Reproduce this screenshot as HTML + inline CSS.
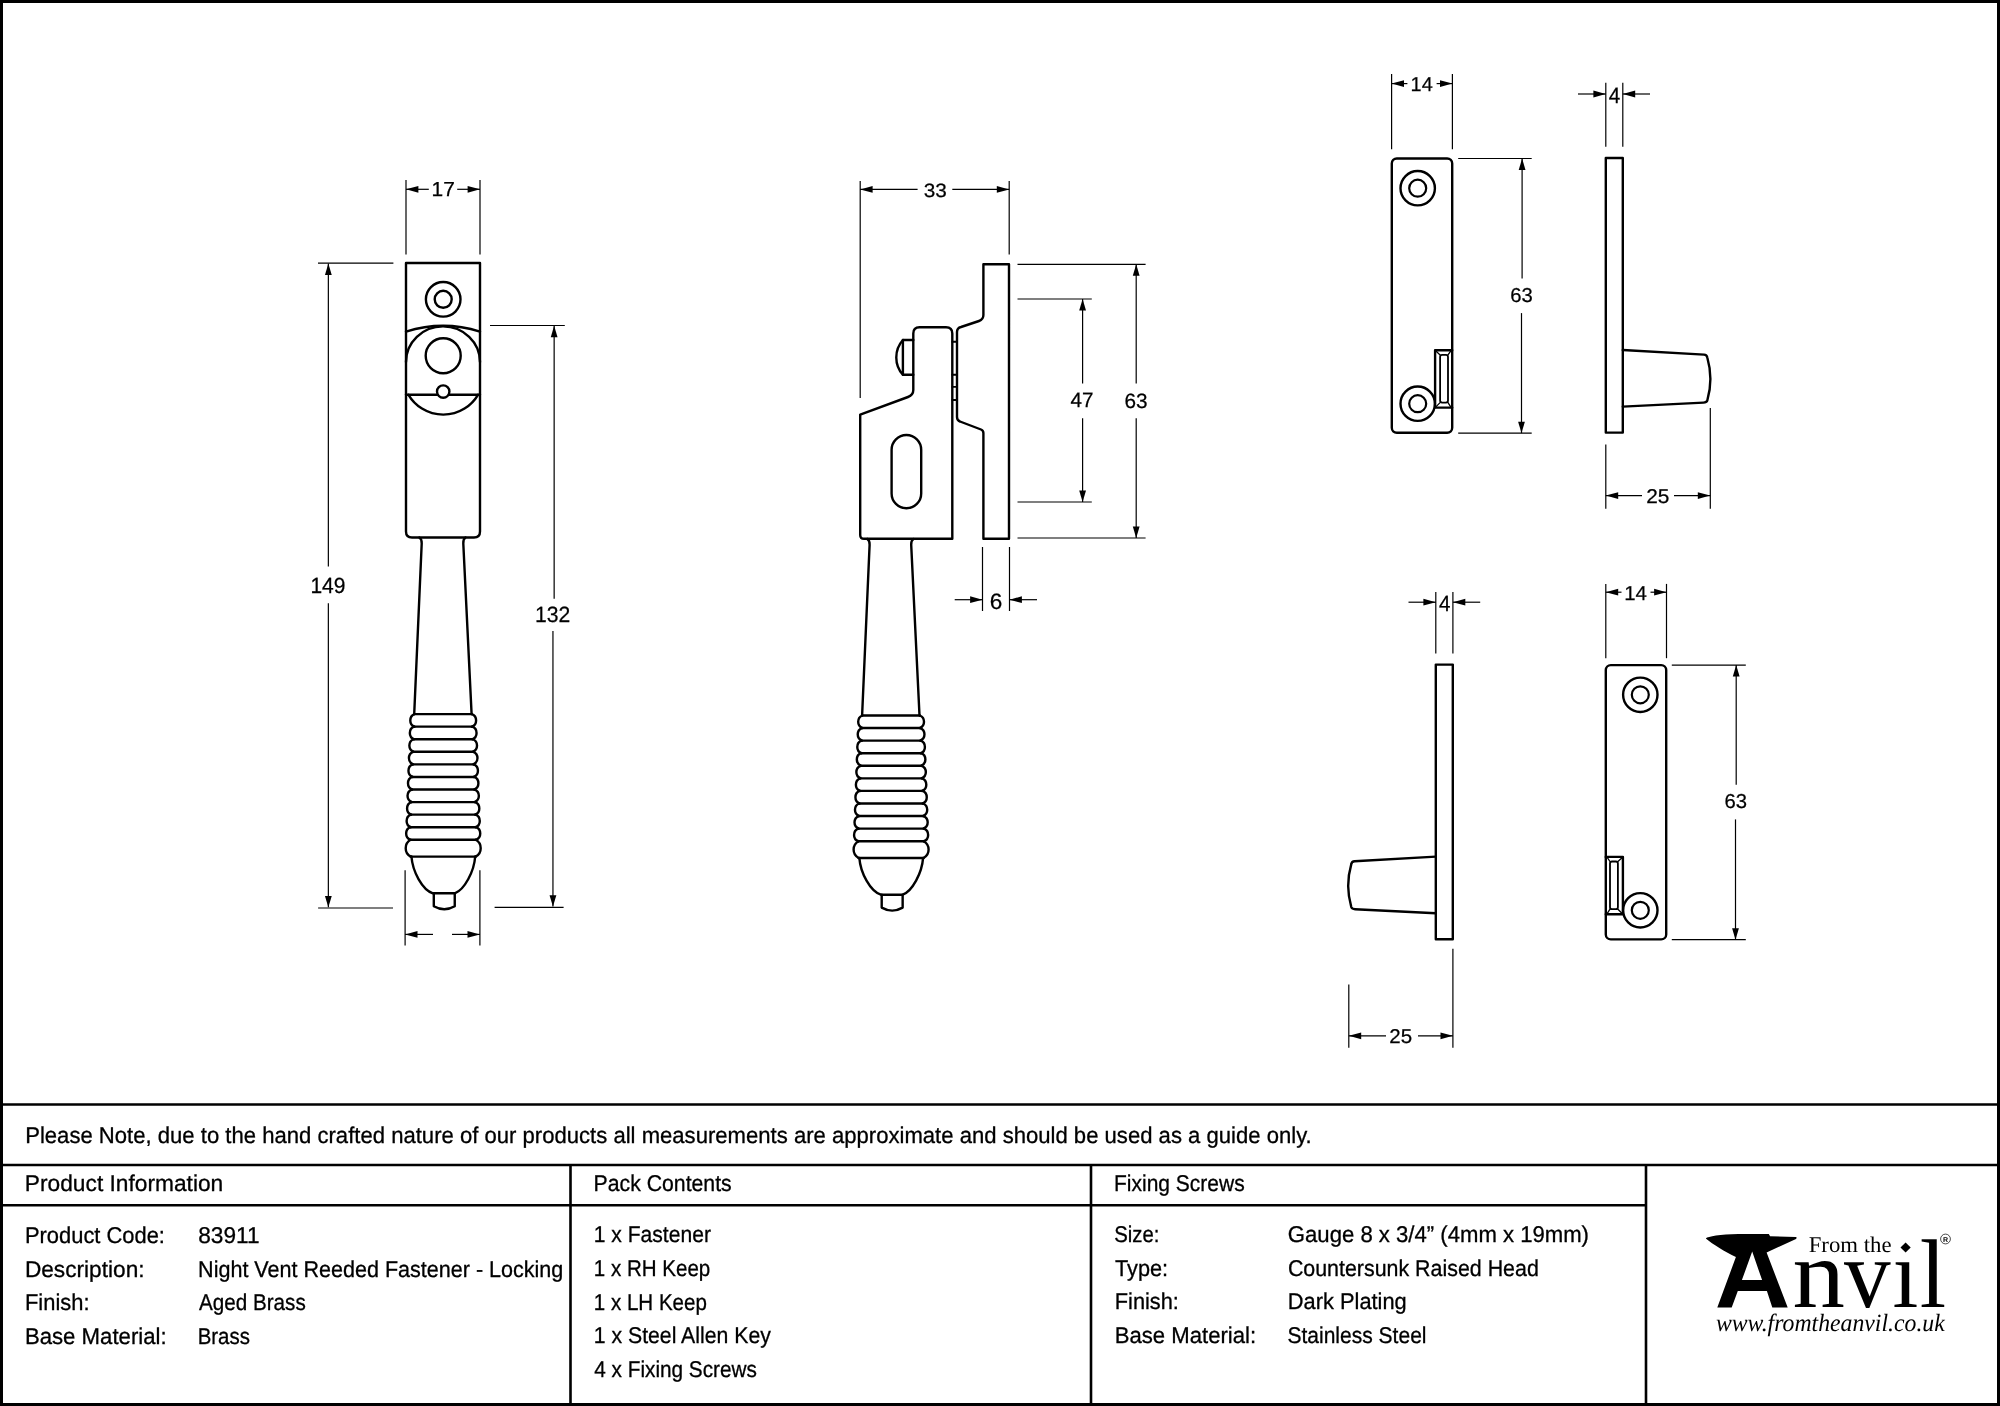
<!DOCTYPE html>
<html><head><meta charset="utf-8"><style>
html,body{margin:0;padding:0;background:#fff;width:2000px;height:1406px;overflow:hidden;font-family:"Liberation Sans",sans-serif;}
svg{display:block;will-change:transform;text-rendering:geometricPrecision;}
</style></head><body>
<svg width="2000" height="1406" viewBox="0 0 2000 1406">
<rect x="0" y="0" width="2000" height="1406" fill="#fff"/>
<rect x="1.5" y="1.5" width="1997" height="1403" fill="none" stroke="#000" stroke-width="3"/>
<g stroke="#000" stroke-width="2.6" fill="none">
<path d="M0,1104.5 H2000 M0,1165 H2000 M0,1205.3 H1646"/>
<path d="M570.5,1165 V1406 M1091,1165 V1406 M1646,1165 V1406"/>
</g>
<g stroke="#000" stroke-width="2.4" fill="none" stroke-linejoin="round" stroke-linecap="round">
<path d="M406,263 H480 V531.5 Q480,537.5 474,537.5 H412 Q406,537.5 406,531.5 Z"/>
<circle cx="443.2" cy="299.3" r="17.3"/><circle cx="443.2" cy="299.3" r="8.5"/>
<path d="M406,331.6 Q443.2,319.8 480,331.6"/>
<path d="M406,362 A37,35.6 0 0 1 480,362"/>
<circle cx="443.2" cy="355.8" r="17.5"/>
<path d="M406,394.8 H480"/>
<path d="M408.5,394.8 A40.4,40.4 0 0 0 478,394.8"/>
<circle cx="443.2" cy="391.6" r="6.2" fill="#fff"/>
<path d="M419.3,537.5 Q421.9,539 421.7,543.5 L414.2,714.1"/>
<path d="M465.5,537.5 Q463.1,539 463.3,543.5 L471.6,714.1"/>
<path d="M414.5,714.1 L471.9,714.1"/>
<path d="M414.5,714.1 A6.8,6.8 0 0 0 414.5,726.67"/>
<path d="M471.9,714.1 A6.8,6.8 0 0 1 471.9,726.67"/>
<path d="M414.04,726.67 L472.36,726.67"/>
<path d="M414.04,726.67 A6.8,6.8 0 0 0 414.04,739.24"/>
<path d="M472.36,726.67 A6.8,6.8 0 0 1 472.36,739.24"/>
<path d="M413.58,739.24 L472.82,739.24"/>
<path d="M413.58,739.24 A6.8,6.8 0 0 0 413.58,751.81"/>
<path d="M472.82,739.24 A6.8,6.8 0 0 1 472.82,751.81"/>
<path d="M413.12,751.81 L473.28,751.81"/>
<path d="M413.12,751.81 A6.8,6.8 0 0 0 413.12,764.38"/>
<path d="M473.28,751.81 A6.8,6.8 0 0 1 473.28,764.38"/>
<path d="M412.66,764.38 L473.74,764.38"/>
<path d="M412.66,764.38 A6.8,6.8 0 0 0 412.66,776.95"/>
<path d="M473.74,764.38 A6.8,6.8 0 0 1 473.74,776.95"/>
<path d="M412.2,776.95 L474.2,776.95"/>
<path d="M412.2,776.95 A6.8,6.8 0 0 0 412.2,789.52"/>
<path d="M474.2,776.95 A6.8,6.8 0 0 1 474.2,789.52"/>
<path d="M411.74,789.52 L474.66,789.52"/>
<path d="M411.74,789.52 A6.8,6.8 0 0 0 411.74,802.09"/>
<path d="M474.66,789.52 A6.8,6.8 0 0 1 474.66,802.09"/>
<path d="M411.28,802.09 L475.12,802.09"/>
<path d="M411.28,802.09 A6.8,6.8 0 0 0 411.28,814.66"/>
<path d="M475.12,802.09 A6.8,6.8 0 0 1 475.12,814.66"/>
<path d="M410.82,814.66 L475.58,814.66"/>
<path d="M410.82,814.66 A6.8,6.8 0 0 0 410.82,827.23"/>
<path d="M475.58,814.66 A6.8,6.8 0 0 1 475.58,827.23"/>
<path d="M410.36,827.23 L476.04,827.23"/>
<path d="M410.36,827.23 A6.8,6.8 0 0 0 410.36,839.8"/>
<path d="M476.04,827.23 A6.8,6.8 0 0 1 476.04,839.8"/>
<path d="M410.7,839.8 L475.7,839.8"/>
<path d="M410.7,839.8 A9.56,9.56 0 0 0 410.7,856.6"/>
<path d="M475.7,839.8 A9.56,9.56 0 0 1 475.7,856.6"/>
<path d="M410.7,856.6 L475.7,856.6"/>
<path d="M411.45,856.5 C412.56,871.64 422.39,889.91 432.9,893.3 L454.8,893.3 C464.4,889.9 474.1,871.6 475.2,856.5"/>
<path d="M433.8,893.3 L433.8,906.2 A21.1,21.1 0 0 0 454.75,906.2 L454.75,893.3"/>
<path d="M860.2,533 V414.6 L908,397 Q913.3,395 913.3,390 V333.5 Q913.3,327.2 919.5,327.2 H946 Q952.3,327.2 952.3,333.5 V538.8 H864 Q860.2,538.8 860.2,535 Z"/>
<path d="M913.3,340 H902.9 A26.2,26.2 0 0 0 902.9,374.8 H913.3"/>
<path d="M902.9,340 V374.8"/>
<rect x="891.6" y="435" width="29.6" height="73.2" rx="14.8" ry="14.8"/>
<path d="M983.4,264.2 H1009 V538.8 H983.4 V433 Q983.4,430.4 981,429.5 L960,421.5 Q957,420.5 957,417 V332 Q957,328 961,327 L979,321 Q983.4,319.5 983.4,315 Z"/>
<path d="M952.3,341.8 H957" stroke-width="1.9"/>
<path d="M952.3,374.7 H957" stroke-width="1.9"/>
<path d="M952.3,386.9 H957" stroke-width="1.9"/>
<path d="M952.3,400.0 H957" stroke-width="1.9"/>
<path d="M867.2,538.9 Q869.8,540.4 869.6,544.9 L862.1,715.5"/>
<path d="M913.4,538.9 Q911,540.4 911.2,544.9 L919.5,715.5"/>
<path d="M862.4,715.5 L919.8,715.5"/>
<path d="M862.4,715.5 A6.8,6.8 0 0 0 862.4,728.07"/>
<path d="M919.8,715.5 A6.8,6.8 0 0 1 919.8,728.07"/>
<path d="M861.94,728.07 L920.26,728.07"/>
<path d="M861.94,728.07 A6.8,6.8 0 0 0 861.94,740.64"/>
<path d="M920.26,728.07 A6.8,6.8 0 0 1 920.26,740.64"/>
<path d="M861.48,740.64 L920.72,740.64"/>
<path d="M861.48,740.64 A6.8,6.8 0 0 0 861.48,753.21"/>
<path d="M920.72,740.64 A6.8,6.8 0 0 1 920.72,753.21"/>
<path d="M861.02,753.21 L921.18,753.21"/>
<path d="M861.02,753.21 A6.8,6.8 0 0 0 861.02,765.78"/>
<path d="M921.18,753.21 A6.8,6.8 0 0 1 921.18,765.78"/>
<path d="M860.56,765.78 L921.64,765.78"/>
<path d="M860.56,765.78 A6.8,6.8 0 0 0 860.56,778.35"/>
<path d="M921.64,765.78 A6.8,6.8 0 0 1 921.64,778.35"/>
<path d="M860.1,778.35 L922.1,778.35"/>
<path d="M860.1,778.35 A6.8,6.8 0 0 0 860.1,790.92"/>
<path d="M922.1,778.35 A6.8,6.8 0 0 1 922.1,790.92"/>
<path d="M859.64,790.92 L922.56,790.92"/>
<path d="M859.64,790.92 A6.8,6.8 0 0 0 859.64,803.49"/>
<path d="M922.56,790.92 A6.8,6.8 0 0 1 922.56,803.49"/>
<path d="M859.18,803.49 L923.02,803.49"/>
<path d="M859.18,803.49 A6.8,6.8 0 0 0 859.18,816.06"/>
<path d="M923.02,803.49 A6.8,6.8 0 0 1 923.02,816.06"/>
<path d="M858.72,816.06 L923.48,816.06"/>
<path d="M858.72,816.06 A6.8,6.8 0 0 0 858.72,828.63"/>
<path d="M923.48,816.06 A6.8,6.8 0 0 1 923.48,828.63"/>
<path d="M858.26,828.63 L923.94,828.63"/>
<path d="M858.26,828.63 A6.8,6.8 0 0 0 858.26,841.2"/>
<path d="M923.94,828.63 A6.8,6.8 0 0 1 923.94,841.2"/>
<path d="M858.6,841.2 L923.6,841.2"/>
<path d="M858.6,841.2 A9.56,9.56 0 0 0 858.6,858"/>
<path d="M923.6,841.2 A9.56,9.56 0 0 1 923.6,858"/>
<path d="M858.6,858 L923.6,858"/>
<path d="M859.35,857.9 C860.46,873.04 870.29,891.31 880.8,894.7 L902.7,894.7 C912.3,891.3 922,873 923.1,857.9"/>
<path d="M881.7,894.7 L881.7,907.6 A21.1,21.1 0 0 0 902.65,907.6 L902.65,894.7"/>
<rect x="1391.8" y="158.5" width="60.4" height="274.3" rx="5"/>
<circle cx="1417.7" cy="188.2" r="17.2"/>
<circle cx="1417.7" cy="188.2" r="8.5" stroke-width="2.2"/>
<circle cx="1417.7" cy="403.7" r="17.2"/>
<circle cx="1417.7" cy="403.7" r="8.5" stroke-width="2.2"/>
<path d="M1435.1,350.3 H1452.2 M1435.1,350.3 V407.6 H1452.2"/>
<rect x="1440.1" y="354.9" width="7.9" height="47.7" rx="2" stroke-width="1.8"/>
<path d="M1435.1,350.3 L1440.1,354.9" stroke-width="1.3"/>
<path d="M1451.2,350.3 L1448,354.9" stroke-width="1.3"/>
<path d="M1435.1,407.6 L1440.1,402.6" stroke-width="1.3"/>
<path d="M1451.2,407.6 L1448,402.6" stroke-width="1.3"/>
<rect x="1605.8" y="158" width="17" height="274.6"/>
<path d="M1622.8,350 L1704,354.6 Q1706.8,354.8 1707.3,357.5 Q1713.5,379 1707.3,400.5 Q1706.5,402.4 1703.5,402.6 L1622.8,406.6"/>
<rect x="1605.8" y="665.1" width="60.4" height="274.3" rx="5"/>
<circle cx="1640.3" cy="694.8" r="17.2"/>
<circle cx="1640.3" cy="694.8" r="8.5" stroke-width="2.2"/>
<circle cx="1640.3" cy="910.3" r="17.2"/>
<circle cx="1640.3" cy="910.3" r="8.5" stroke-width="2.2"/>
<path d="M1622.9,856.9 H1605.8 M1622.9,856.9 V914.2 H1605.8"/>
<rect x="1610" y="861.5" width="7.9" height="47.7" rx="2" stroke-width="1.8"/>
<path d="M1622.9,856.9 L1617.9,861.5" stroke-width="1.3"/>
<path d="M1606.8,856.9 L1610,861.5" stroke-width="1.3"/>
<path d="M1622.9,914.2 L1617.9,909.2" stroke-width="1.3"/>
<path d="M1606.8,914.2 L1610,909.2" stroke-width="1.3"/>
<rect x="1435.8" y="664.6" width="17" height="274.6"/>
<path d="M1435.8,856.6 L1354.6,861.2 Q1351.8,861.4 1351.3,864.1 Q1345.1,885.6 1351.3,907.1 Q1352.1,909 1355.1,909.2 L1435.8,913.2"/>
</g>
<g stroke="#000" stroke-width="1.2" fill="none">
<line x1="406" y1="180" x2="406" y2="254.6" stroke-width="1.2"/>
<line x1="480" y1="180" x2="480" y2="254.6" stroke-width="1.2"/>
<line x1="318" y1="263.1" x2="393.4" y2="263.1" stroke-width="1.2"/>
<line x1="318.1" y1="908" x2="393" y2="908" stroke-width="1.2"/>
<line x1="490" y1="325.5" x2="564.8" y2="325.5" stroke-width="1.2"/>
<line x1="494.6" y1="907.3" x2="563.6" y2="907.3" stroke-width="1.2"/>
<line x1="405.1" y1="870.3" x2="405.1" y2="945.4" stroke-width="1.2"/>
<line x1="479.9" y1="870.3" x2="479.9" y2="945.4" stroke-width="1.2"/>
<line x1="860.2" y1="181" x2="860.2" y2="398" stroke-width="1.2"/>
<line x1="1009.2" y1="181" x2="1009.2" y2="254.6" stroke-width="1.2"/>
<line x1="1017.5" y1="299" x2="1091.8" y2="299" stroke-width="1.2"/>
<line x1="1017.5" y1="502" x2="1091.8" y2="502" stroke-width="1.2"/>
<line x1="1017.5" y1="264.3" x2="1145.6" y2="264.3" stroke-width="1.2"/>
<line x1="1017.5" y1="538" x2="1145.6" y2="538" stroke-width="1.2"/>
<line x1="982.5" y1="547" x2="982.5" y2="611" stroke-width="1.2"/>
<line x1="1009.5" y1="547" x2="1009.5" y2="611" stroke-width="1.2"/>
<line x1="1391.6" y1="73.9" x2="1391.6" y2="149.3" stroke-width="1.2"/>
<line x1="1452.4" y1="73.9" x2="1452.4" y2="149.3" stroke-width="1.2"/>
<line x1="1458.2" y1="158.5" x2="1531.7" y2="158.5" stroke-width="1.2"/>
<line x1="1458.2" y1="433.1" x2="1531.7" y2="433.1" stroke-width="1.2"/>
<line x1="1605.8" y1="82.8" x2="1605.8" y2="146.8" stroke-width="1.2"/>
<line x1="1622.8" y1="82.8" x2="1622.8" y2="146.8" stroke-width="1.2"/>
<line x1="1605.8" y1="444.6" x2="1605.8" y2="508.8" stroke-width="1.2"/>
<line x1="1710.3" y1="408" x2="1710.3" y2="508.8" stroke-width="1.2"/>
<line x1="1435.8" y1="592" x2="1435.8" y2="653.4" stroke-width="1.2"/>
<line x1="1452.9" y1="592" x2="1452.9" y2="653.4" stroke-width="1.2"/>
<line x1="1348.8" y1="984.6" x2="1348.8" y2="1047.7" stroke-width="1.2"/>
<line x1="1452.9" y1="948.7" x2="1452.9" y2="1047.7" stroke-width="1.2"/>
<line x1="1605.8" y1="583.9" x2="1605.8" y2="658.2" stroke-width="1.2"/>
<line x1="1666.5" y1="583.9" x2="1666.5" y2="658.2" stroke-width="1.2"/>
<line x1="1671.8" y1="665.1" x2="1745.8" y2="665.1" stroke-width="1.2"/>
<line x1="1671.8" y1="939.7" x2="1745.8" y2="939.7" stroke-width="1.2"/>
</g>
<g stroke="#000" stroke-width="1.2" fill="none">
<line x1="406" y1="189.3" x2="428.8" y2="189.3" stroke-width="1.2"/>
<line x1="457.2" y1="189.3" x2="480" y2="189.3" stroke-width="1.2"/>
<path d="M406,189.3 L418.4,185.9 L418.4,192.7 Z" fill="#000" stroke="none"/>
<path d="M480,189.3 L467.6,192.7 L467.6,185.9 Z" fill="#000" stroke="none"/>
<line x1="328.35" y1="263.6" x2="328.35" y2="566.4" stroke-width="1.2"/>
<line x1="328.35" y1="603.2" x2="328.35" y2="907.3" stroke-width="1.2"/>
<path d="M328.35,263.6 L331.75,275 L324.95,275 Z" fill="#000" stroke="none"/>
<path d="M328.35,907.3 L324.95,895.9 L331.75,895.9 Z" fill="#000" stroke="none"/>
<line x1="554.15" y1="325.8" x2="554.15" y2="598.8" stroke-width="1.2"/>
<line x1="552.95" y1="631" x2="552.95" y2="906.6" stroke-width="1.2"/>
<path d="M554.15,325.8 L557.55,337.2 L550.75,337.2 Z" fill="#000" stroke="none"/>
<path d="M552.95,906.6 L549.55,895.2 L556.35,895.2 Z" fill="#000" stroke="none"/>
<line x1="405.1" y1="934.4" x2="433" y2="934.4" stroke-width="1.2"/>
<line x1="452" y1="934.4" x2="479.9" y2="934.4" stroke-width="1.2"/>
<path d="M405.1,934.4 L417.5,931 L417.5,937.8 Z" fill="#000" stroke="none"/>
<path d="M479.9,934.4 L467.5,937.8 L467.5,931 Z" fill="#000" stroke="none"/>
<line x1="860.2" y1="189.4" x2="917.6" y2="189.4" stroke-width="1.2"/>
<line x1="952.3" y1="189.4" x2="1009.2" y2="189.4" stroke-width="1.2"/>
<path d="M860.2,189.4 L872.6,186 L872.6,192.8 Z" fill="#000" stroke="none"/>
<path d="M1009.2,189.4 L996.8,192.8 L996.8,186 Z" fill="#000" stroke="none"/>
<line x1="1082.6" y1="299" x2="1082.6" y2="383.5" stroke-width="1.2"/>
<line x1="1082.6" y1="418.2" x2="1082.6" y2="502" stroke-width="1.2"/>
<path d="M1082.6,299 L1086,310.4 L1079.2,310.4 Z" fill="#000" stroke="none"/>
<path d="M1082.6,502 L1079.2,490.6 L1086,490.6 Z" fill="#000" stroke="none"/>
<line x1="1136.2" y1="264.3" x2="1136.2" y2="383.5" stroke-width="1.2"/>
<line x1="1136.2" y1="418.2" x2="1136.2" y2="538" stroke-width="1.2"/>
<path d="M1136.2,264.3 L1139.6,275.7 L1132.8,275.7 Z" fill="#000" stroke="none"/>
<path d="M1136.2,538 L1132.8,526.6 L1139.6,526.6 Z" fill="#000" stroke="none"/>
<line x1="954.7" y1="599.7" x2="982.5" y2="599.7" stroke-width="1.2"/>
<line x1="1009.5" y1="599.7" x2="1037" y2="599.7" stroke-width="1.2"/>
<path d="M982.5,599.7 L970.1,603.1 L970.1,596.3 Z" fill="#000" stroke="none"/>
<path d="M1009.5,599.7 L1021.9,596.3 L1021.9,603.1 Z" fill="#000" stroke="none"/>
<line x1="1391.6" y1="83.6" x2="1407.4" y2="83.6" stroke-width="1.2"/>
<line x1="1436.6" y1="83.6" x2="1452.4" y2="83.6" stroke-width="1.2"/>
<path d="M1391.6,83.6 L1404,80.2 L1404,87 Z" fill="#000" stroke="none"/>
<path d="M1452.4,83.6 L1440,87 L1440,80.2 Z" fill="#000" stroke="none"/>
<line x1="1522.1" y1="158.5" x2="1522.1" y2="278.5" stroke-width="1.2"/>
<line x1="1521.5" y1="313.1" x2="1521.5" y2="433.1" stroke-width="1.2"/>
<path d="M1522.1,158.5 L1525.5,169.9 L1518.7,169.9 Z" fill="#000" stroke="none"/>
<path d="M1521.5,433.1 L1518.1,421.7 L1524.9,421.7 Z" fill="#000" stroke="none"/>
<line x1="1578" y1="94" x2="1605.8" y2="94" stroke-width="1.2"/>
<line x1="1622.8" y1="94" x2="1650" y2="94" stroke-width="1.2"/>
<path d="M1605.8,94 L1593.4,97.4 L1593.4,90.6 Z" fill="#000" stroke="none"/>
<path d="M1622.8,94 L1635.2,90.6 L1635.2,97.4 Z" fill="#000" stroke="none"/>
<line x1="1605.8" y1="495.6" x2="1642" y2="495.6" stroke-width="1.2"/>
<line x1="1674" y1="495.6" x2="1710.2" y2="495.6" stroke-width="1.2"/>
<path d="M1605.8,495.6 L1618.2,492.2 L1618.2,499 Z" fill="#000" stroke="none"/>
<path d="M1710.2,495.6 L1697.8,499 L1697.8,492.2 Z" fill="#000" stroke="none"/>
<line x1="1408.5" y1="602.2" x2="1435.8" y2="602.2" stroke-width="1.2"/>
<line x1="1452.9" y1="602.2" x2="1480.2" y2="602.2" stroke-width="1.2"/>
<path d="M1435.8,602.2 L1423.4,605.6 L1423.4,598.8 Z" fill="#000" stroke="none"/>
<path d="M1452.9,602.2 L1465.3,598.8 L1465.3,605.6 Z" fill="#000" stroke="none"/>
<line x1="1348.8" y1="1035.8" x2="1386" y2="1035.8" stroke-width="1.2"/>
<line x1="1418" y1="1035.8" x2="1452.9" y2="1035.8" stroke-width="1.2"/>
<path d="M1348.8,1035.8 L1361.2,1032.4 L1361.2,1039.2 Z" fill="#000" stroke="none"/>
<path d="M1452.9,1035.8 L1440.5,1039.2 L1440.5,1032.4 Z" fill="#000" stroke="none"/>
<line x1="1605.8" y1="592.2" x2="1621.5" y2="592.2" stroke-width="1.2"/>
<line x1="1650.5" y1="592.2" x2="1666.5" y2="592.2" stroke-width="1.2"/>
<path d="M1605.8,592.2 L1618.2,588.8 L1618.2,595.6 Z" fill="#000" stroke="none"/>
<path d="M1666.5,592.2 L1654.1,595.6 L1654.1,588.8 Z" fill="#000" stroke="none"/>
<line x1="1736.2" y1="665.1" x2="1736.2" y2="784.8" stroke-width="1.2"/>
<line x1="1735.5" y1="819.4" x2="1735.5" y2="939.7" stroke-width="1.2"/>
<path d="M1736.2,665.1 L1739.6,676.5 L1732.8,676.5 Z" fill="#000" stroke="none"/>
<path d="M1735.5,939.7 L1732.1,928.3 L1738.9,928.3 Z" fill="#000" stroke="none"/>
</g>
<g fill="#000" stroke="#000" stroke-width="0.25" font-family="Liberation Sans, sans-serif">
<text x="431.50" y="195.80" font-size="20.22" textLength="23.27" lengthAdjust="spacingAndGlyphs">17</text>
<text x="310.38" y="592.50" font-size="22.0" textLength="35.08" lengthAdjust="spacingAndGlyphs">149</text>
<text x="534.97" y="622.00" font-size="22.14" textLength="35.29" lengthAdjust="spacingAndGlyphs">132</text>
<text x="923.79" y="196.70" font-size="19.29" textLength="23.08" lengthAdjust="spacingAndGlyphs">33</text>
<text x="1070.50" y="407.25" font-size="20.74" textLength="22.96" lengthAdjust="spacingAndGlyphs">47</text>
<text x="1124.54" y="407.50" font-size="20.71" textLength="23.08" lengthAdjust="spacingAndGlyphs">63</text>
<text x="989.68" y="608.70" font-size="22.29" textLength="12.55" lengthAdjust="spacingAndGlyphs">6</text>
<text x="1410.57" y="90.60" font-size="20.15" textLength="22.13" lengthAdjust="spacingAndGlyphs">14</text>
<text x="1510.37" y="302.20" font-size="20.14" textLength="22.52" lengthAdjust="spacingAndGlyphs">63</text>
<text x="1608.84" y="103.25" font-size="22.3" textLength="11.50" lengthAdjust="spacingAndGlyphs">4</text>
<text x="1646.26" y="503.10" font-size="19.93" textLength="23.17" lengthAdjust="spacingAndGlyphs">25</text>
<text x="1439.03" y="610.80" font-size="22.07" textLength="11.44" lengthAdjust="spacingAndGlyphs">4</text>
<text x="1389.28" y="1042.80" font-size="19.93" textLength="22.83" lengthAdjust="spacingAndGlyphs">25</text>
<text x="1624.28" y="599.90" font-size="20.15" textLength="22.69" lengthAdjust="spacingAndGlyphs">14</text>
<text x="1724.47" y="808.20" font-size="20.14" textLength="22.52" lengthAdjust="spacingAndGlyphs">63</text>
</g>
<g fill="#000" stroke="#000" stroke-width="0.3" font-family="Liberation Sans, sans-serif">
<text x="25.18" y="1143.00" font-size="22.8" textLength="1286.55" lengthAdjust="spacingAndGlyphs">Please Note, due to the hand crafted nature of our products all measurements are approximate and should be used as a guide only.</text>
<text x="24.87" y="1191.00" font-size="22.8" textLength="198.38" lengthAdjust="spacingAndGlyphs">Product Information</text>
<text x="593.61" y="1191.00" font-size="22.8" textLength="138.08" lengthAdjust="spacingAndGlyphs">Pack Contents</text>
<text x="1114.03" y="1191.00" font-size="22.8" textLength="130.65" lengthAdjust="spacingAndGlyphs">Fixing Screws</text>
<text x="24.95" y="1243.00" font-size="22.8" textLength="140.00" lengthAdjust="spacingAndGlyphs">Product Code:</text>
<text x="24.88" y="1277.00" font-size="22.8" textLength="119.70" lengthAdjust="spacingAndGlyphs">Description:</text>
<text x="24.95" y="1310.00" font-size="22.8" textLength="64.56" lengthAdjust="spacingAndGlyphs">Finish:</text>
<text x="24.92" y="1344.00" font-size="22.8" textLength="141.74" lengthAdjust="spacingAndGlyphs">Base Material:</text>
<text x="198.24" y="1243.00" font-size="22.8" textLength="61.26" lengthAdjust="spacingAndGlyphs">83911</text>
<text x="198.08" y="1277.00" font-size="22.8" textLength="365.26" lengthAdjust="spacingAndGlyphs">Night Vent Reeded Fastener - Locking</text>
<text x="198.98" y="1310.00" font-size="22.8" textLength="106.76" lengthAdjust="spacingAndGlyphs">Aged Brass</text>
<text x="197.68" y="1344.00" font-size="22.8" textLength="52.28" lengthAdjust="spacingAndGlyphs">Brass</text>
<text x="593.75" y="1242.00" font-size="22.8" textLength="117.16" lengthAdjust="spacingAndGlyphs">1 x Fastener</text>
<text x="593.80" y="1276.00" font-size="22.8" textLength="116.51" lengthAdjust="spacingAndGlyphs">1 x RH Keep</text>
<text x="593.80" y="1310.00" font-size="22.8" textLength="113.08" lengthAdjust="spacingAndGlyphs">1 x LH Keep</text>
<text x="593.73" y="1343.00" font-size="22.8" textLength="177.16" lengthAdjust="spacingAndGlyphs">1 x Steel Allen Key</text>
<text x="594.24" y="1377.00" font-size="22.8" textLength="162.68" lengthAdjust="spacingAndGlyphs">4 x Fixing Screws</text>
<text x="1114.20" y="1242.00" font-size="22.8" textLength="45.25" lengthAdjust="spacingAndGlyphs">Size:</text>
<text x="1115.02" y="1276.00" font-size="22.8" textLength="53.14" lengthAdjust="spacingAndGlyphs">Type:</text>
<text x="1114.76" y="1309.00" font-size="22.8" textLength="64.13" lengthAdjust="spacingAndGlyphs">Finish:</text>
<text x="1114.72" y="1343.00" font-size="22.8" textLength="141.43" lengthAdjust="spacingAndGlyphs">Base Material:</text>
<text x="1287.84" y="1242.00" font-size="22.8" textLength="301.15" lengthAdjust="spacingAndGlyphs">Gauge 8 x 3/4” (4mm x 19mm)</text>
<text x="1287.89" y="1276.00" font-size="22.8" textLength="250.92" lengthAdjust="spacingAndGlyphs">Countersunk Raised Head</text>
<text x="1287.86" y="1309.00" font-size="22.8" textLength="118.84" lengthAdjust="spacingAndGlyphs">Dark Plating</text>
<text x="1287.46" y="1343.00" font-size="22.8" textLength="139.04" lengthAdjust="spacingAndGlyphs">Stainless Steel</text>
</g>
<g fill="#000">
<path d="M1705.8,1238.4 C1708,1236.3 1720,1234.4 1738.4,1234 L1768.8,1234 L1770.1,1236.2 L1795.5,1237 Q1797.6,1237.4 1796,1238.9 L1766.6,1252.5 L1787.7,1307.6 L1772.3,1307.6 L1766.9,1291 L1737.8,1291 L1731.7,1307.6 L1717.3,1307.6 L1735.9,1257 C1725,1251.5 1713,1244.5 1705.8,1238.4 Z M1752.2,1251.6 L1741.9,1280.1 L1762.1,1280.1 Z" fill-rule="evenodd"/>
<text x="1792.41" y="1307.00" font-family="Liberation Serif" font-style="normal" font-size="97.5" textLength="52.41" lengthAdjust="spacingAndGlyphs">n</text>
<text x="1843.92" y="1307.00" font-family="Liberation Serif" font-style="normal" font-size="97.5" textLength="46.62" lengthAdjust="spacingAndGlyphs">v</text>
<text x="1892.62" y="1307.00" font-family="Liberation Serif" font-style="normal" font-size="97.5" textLength="25.83" lengthAdjust="spacingAndGlyphs">ı</text>
<text x="1919.81" y="1307.00" font-family="Liberation Serif" font-style="normal" font-size="97.5" textLength="26.38" lengthAdjust="spacingAndGlyphs">l</text>
<text x="1808.68" y="1251.80" font-family="Liberation Serif" font-style="normal" font-size="22.5" textLength="82.86" lengthAdjust="spacingAndGlyphs">From the</text>
<text x="1715.88" y="1330.80" font-family="Liberation Serif" font-style="italic" font-size="24.8" textLength="228.91" lengthAdjust="spacingAndGlyphs">www.fromtheanvil.co.uk</text>
<path d="M1905.6,1242.4 L1910.7,1247.5 L1905.6,1252.6 L1900.5,1247.5 Z"/>
<circle cx="1945.5" cy="1239" r="4.9" fill="none" stroke="#000" stroke-width="0.7"/><text x="1945.5" y="1241.6" font-family="Liberation Sans, sans-serif" font-size="7" font-weight="bold" text-anchor="middle">R</text>
</g>
</svg>
</body></html>
